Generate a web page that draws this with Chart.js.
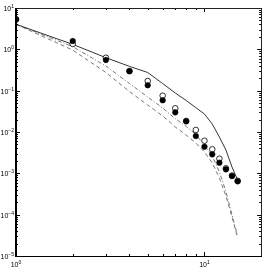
<!DOCTYPE html>
<html><head><meta charset="utf-8">
<script src="https://cdn.jsdelivr.net/npm/chart.js@4/dist/chart.umd.min.js"></script>
<style>html,body{margin:0;padding:0;background:#fff}#wrap{width:266px;height:269px}</style>
</head><body><div id="wrap"><canvas id="c" width="266" height="269"></canvas></div>
<script>
const xValues = [1,2,3,4,5,6,7,8,9,10,11,12,13,14,15];
const filledPts = [5.4,1.59,0.552,0.294,0.135,0.0584,0.0299,0.0181,0.0080,0.00441,0.00288,0.00181,0.00125,0.00086,0.00064];
const openPts = [5.2,1.35,0.627,0.30,0.171,0.0756,0.0374,0.0185,0.0112,0.00615,0.00381,0.00226,0.00132,0.00088,0.00066];
const solidLine = [4.04,1.32,0.628,0.387,0.275,0.149,0.0877,0.0578,0.039,0.0272,0.0156,0.00757,0.00366,0.00142,0.00069];
const dashDotLine = [4.04,1.16,0.395,0.149,0.0703,0.038,0.021,0.0136,0.0087,0.00484,0.00262,0.00108,0.000363,0.0001,0.00003];
const dashLine = [4.04,0.96,0.275,0.0955,0.045,0.0244,0.0132,0.00845,0.00542,0.00328,0.00178,0.00077,0.000283,0.000088,0.000027];
const xTicks = [1,2,3,4,5,6,7,8,9,10,20];
const yExpMin = -5, yExpMax = 1;

function isPow10(v){const e=Math.log10(v);return Math.abs(e-Math.round(e))<1e-9;}
function expOf(v){return Math.round(Math.log10(v));}
function pts(arr){return xValues.map((x,i)=>({x:x,y:arr[i]}));}
const yTicks=[]; for(let e=yExpMin;e<=yExpMax;e++){for(let m=1;m<=9;m++){const v=m*Math.pow(10,e); if(v<=Math.pow(10,yExpMax)*1.0000001) yTicks.push(+v.toPrecision(3));}}

const BASE_FONT='7px "Liberation Sans"', EXP_FONT='5px "Liberation Sans"';
function drawPow(ctx, e, x, baseY, align){
  const b='10', s=String(e).replace('-','\u2212');
  ctx.font=BASE_FONT; const bw=ctx.measureText(b).width;
  ctx.font=EXP_FONT; const sw=ctx.measureText(s).width;
  let x0 = align==='right' ? x-bw-sw : x-(bw+sw)/2;
  ctx.font=BASE_FONT; ctx.fillText(b,x0,baseY);
  ctx.font=EXP_FONT; ctx.fillText(s,x0+bw,baseY-3);
}

const frame = {
  id:'frame',
  afterDraw(chart){
    const ctx=chart.ctx, a=chart.chartArea, xs=chart.scales.x, ys=chart.scales.y;
    ctx.save(); ctx.strokeStyle='#000'; ctx.lineWidth=1;
    ctx.beginPath();
    xTicks.forEach(v=>{const p=Math.round(xs.getPixelForValue(v))+0.5; const L=isPow10(v)?4:2;
      ctx.moveTo(p,a.bottom); ctx.lineTo(p,a.bottom-L); ctx.moveTo(p,a.top); ctx.lineTo(p,a.top+L);});
    yTicks.forEach(v=>{const p=Math.round(ys.getPixelForValue(v))+0.5; const L=isPow10(v)?4:2;
      ctx.moveTo(a.left,p); ctx.lineTo(a.left+L,p); ctx.moveTo(a.right,p); ctx.lineTo(a.right-L,p);});
    ctx.stroke();
    const L=Math.round(a.left), R=Math.round(a.right), T=Math.round(a.top), B=Math.round(a.bottom);
    ctx.strokeStyle='#222';
    ctx.beginPath(); ctx.moveTo(L,T+0.5); ctx.lineTo(R+0.5,T+0.5); ctx.lineTo(R+0.5,B); ctx.stroke();
    ctx.strokeStyle='#000';
    ctx.beginPath(); ctx.moveTo(L,B+0.5); ctx.lineTo(R+1,B+0.5); ctx.stroke();
    ctx.lineWidth=2; ctx.beginPath(); ctx.moveTo(L,T); ctx.lineTo(L,B+1); ctx.stroke();
    // tick labels (powers of ten) placed from the library scales
    ctx.fillStyle='#000'; ctx.textBaseline='alphabetic'; ctx.textAlign='left';
    yTicks.filter(isPow10).forEach(v=>{const p=ys.getPixelForValue(v); drawPow(ctx, expOf(v), L-2, p+3, 'right');});
    xTicks.filter(isPow10).forEach(v=>{const p=xs.getPixelForValue(v); drawPow(ctx, expOf(v), p, B+11, 'center');});
    ctx.restore();
  }
};

new Chart(document.getElementById('c'),{
  type:'scatter',
  data:{datasets:[
    {label:'filled',data:pts(filledPts),showLine:false,pointRadius:2.8,pointBackgroundColor:'#000',pointBorderColor:'#000',pointBorderWidth:0.5,order:1},
    {label:'open',data:pts(openPts),showLine:false,pointRadius:2.8,pointBackgroundColor:'#fff',pointBorderColor:'#000',pointBorderWidth:0.8,order:2},
    {label:'solid',data:pts(solidLine),showLine:true,pointRadius:0,borderColor:'#333',borderWidth:1,fill:false,order:3},
    {label:'dashdot',data:pts(dashDotLine),showLine:true,pointRadius:0,borderColor:'#777',borderWidth:1,borderDash:[4,2,1,2],fill:false,order:4},
    {label:'dash',data:pts(dashLine),showLine:true,pointRadius:0,borderColor:'#777',borderWidth:1,borderDash:[4,3],fill:false,order:5}
  ]},
  options:{
    responsive:false,animation:false,devicePixelRatio:1,
    layout:{padding:{top:8,right:3,left:0,bottom:0}},
    plugins:{legend:{display:false},tooltip:{enabled:false}},
    scales:{
      x:{type:'logarithmic',min:1,max:20,
        afterBuildTicks:s=>{s.ticks=xTicks.map(v=>({value:v}));},
        afterFit:s=>{s.height=13;},
        grid:{display:false,drawTicks:false},border:{display:false},
        ticks:{display:false}},
      y:{type:'logarithmic',min:1e-5,max:10,
        afterBuildTicks:s=>{s.ticks=yTicks.map(v=>({value:v}));},
        afterFit:s=>{s.width=16;},
        grid:{display:false,drawTicks:false},border:{display:false},
        ticks:{display:false}}
    }
  },
  plugins:[frame]
});
</script></body></html>
